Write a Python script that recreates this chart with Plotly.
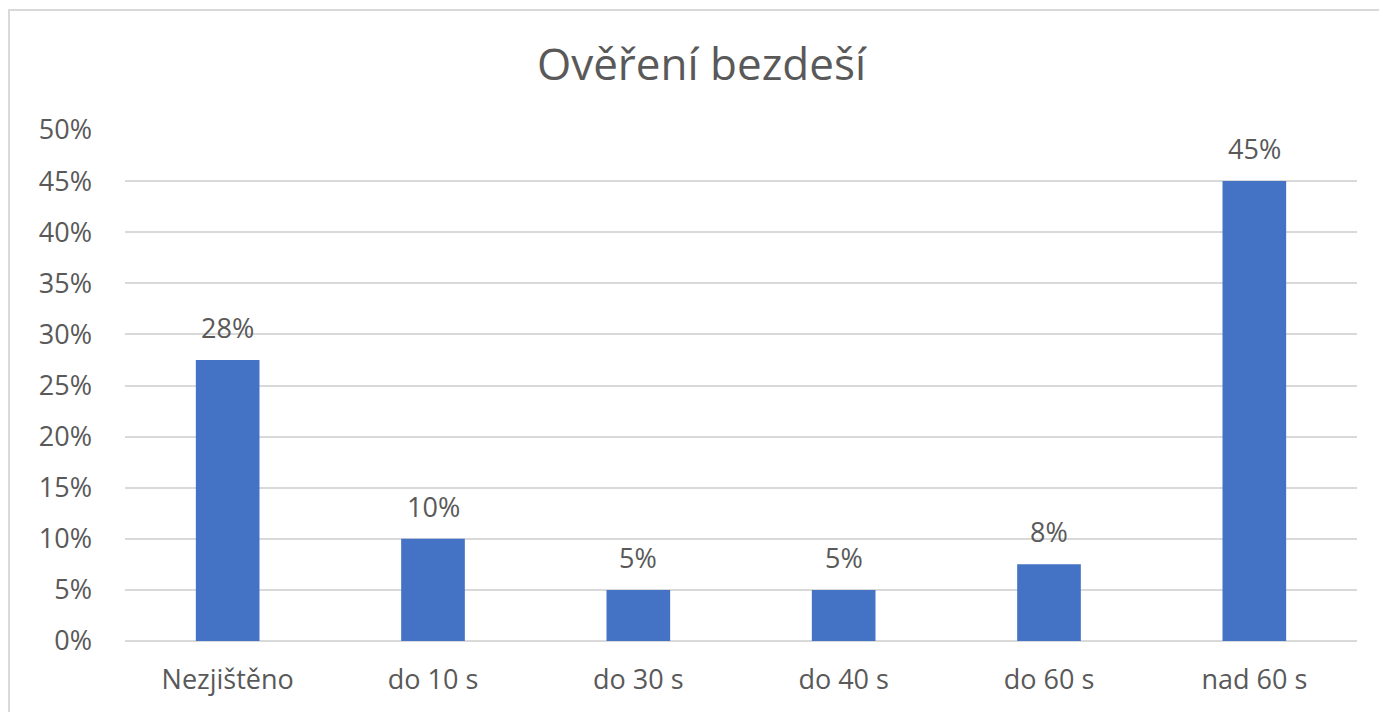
import plotly.graph_objects as go

categories = ["Nezjištěno", "do 10 s", "do 30 s", "do 40 s", "do 60 s", "nad 60 s"]
values = [27.5, 10, 5, 5, 7.5, 45]
labels = ["28%", "10%", "5%", "5%", "8%", "45%"]
tick_vals = [0, 5, 10, 15, 20, 25, 30, 35, 40, 45, 50]
tick_text = ["0%", "5%", "10%", "15%", "20%", "25%", "30%", "35%", "40%", "45%", "50%"]

TXT = "#595959"
FONT = "Open Sans"
FS = 27

fig = go.Figure()
fig.add_trace(go.Bar(x=categories, y=values, marker_color="#4472C4",
                     marker_line_width=0, width=0.31, hoverinfo="skip"))

for c, v, t in zip(categories, values, labels):
    fig.add_annotation(x=c, y=v, text=t, showarrow=False, yanchor="bottom",
                       yshift=12, font=dict(family=FONT, size=FS, color=TXT))

fig.update_layout(
    width=1387, height=712,
    margin=dict(l=117, r=38, t=122, b=79),
    paper_bgcolor="white", plot_bgcolor="white",
    showlegend=False,
    title=dict(text="Ověření bezdeší", x=0.5, xanchor="center", y=0.92, yanchor="middle",
               font=dict(family=FONT, size=44, color=TXT)),
    xaxis=dict(showline=False, showgrid=False, ticks="", ticklabelstandoff=20,
               tickfont=dict(family=FONT, size=FS, color=TXT)),
    yaxis=dict(range=[0, 50], tickvals=tick_vals, ticktext=tick_text, showgrid=True,
               gridcolor="#d9d9d9", gridwidth=1.5, zeroline=True, zerolinecolor="#d9d9d9",
               zerolinewidth=1.5, showline=False, ticks="",
               tickfont=dict(family=FONT, size=FS, color=TXT), ticklabelstandoff=32),
    shapes=[
        dict(type="rect", xref="paper", yref="paper", x0=-0.0942, x1=1.2, y0=-0.3, y1=1.2348,
             line=dict(color="#d9d9d9", width=2), fillcolor="rgba(0,0,0,0)", layer="below"),
    ],
)

fig.write_html("out.html")
